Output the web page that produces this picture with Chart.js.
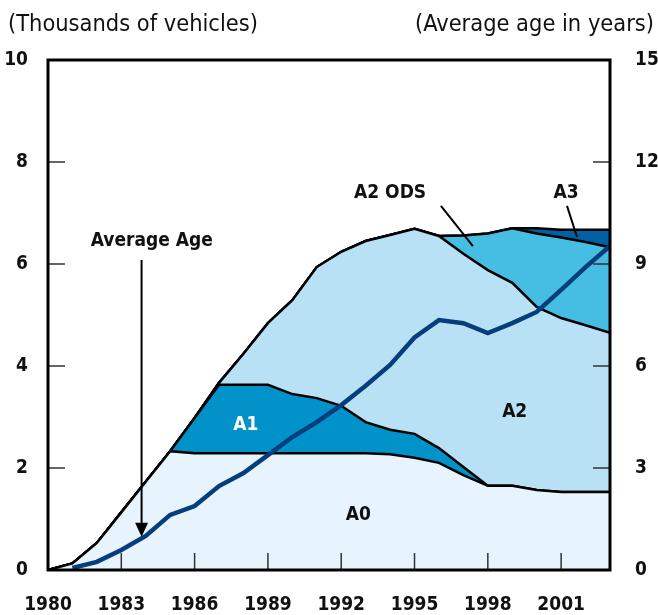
<!DOCTYPE html>
<html>
<head>
<meta charset="utf-8">
<script src="https://cdn.jsdelivr.net/npm/chart.js@4.4.1/dist/chart.umd.min.js"></script>
<style>
  html, body { margin: 0; padding: 0; background: #fff; }
</style>
</head>
<body>
<canvas id="vehicleChart" width="658" height="615"></canvas>
<script>
// years on the x axis
const years = [1980, 1981, 1982, 1983, 1984, 1985, 1986, 1987, 1988, 1989, 1990, 1991,
               1992, 1993, 1994, 1995, 1996, 1997, 1998, 1999, 2000, 2001, 2002, 2003];

// fleet by class, thousands of vehicles (stacked)
const a0    = [0, 0.13, 0.53, 1.13, 1.73, 2.33, 2.29, 2.29, 2.29, 2.29, 2.29, 2.29,
               2.29, 2.29, 2.27, 2.20, 2.10, 1.86, 1.65, 1.65, 1.57, 1.53, 1.53, 1.53];
const a1    = [0, 0, 0, 0, 0, 0, 0.69, 1.34, 1.34, 1.34, 1.16, 1.08,
               0.93, 0.61, 0.48, 0.47, 0.29, 0.16, 0, 0, 0, 0, 0, 0];
const a2    = [0, 0, 0, 0, 0, 0, 0, 0.04, 0.61, 1.21, 1.84, 2.57,
               3.02, 3.55, 3.82, 4.02, 4.16, 4.18, 4.23, 3.98, 3.59, 3.41, 3.27, 3.12];
const a2ods = [0, 0, 0, 0, 0, 0, 0, 0, 0, 0, 0, 0,
               0, 0, 0, 0, 0, 0.36, 0.72, 1.07, 1.44, 1.58, 1.63, 1.68];
const a3    = [0, 0, 0, 0, 0, 0, 0, 0, 0, 0, 0, 0,
               0, 0, 0, 0, 0, 0, 0, 0, 0.10, 0.15, 0.24, 0.34];

// average age in years (right axis)
const avgAge = [null, 0.06, 0.24, 0.59, 1.00, 1.62, 1.88, 2.47, 2.85, 3.38, 3.91, 4.35,
                4.85, 5.42, 6.03, 6.84, 7.35, 7.26, 6.97, 7.26, 7.59, 8.24, 8.91, 9.53];

const leftTicks = [0, 2, 4, 6, 8, 10];
const rightTicks = [0, 3, 6, 9, 12, 15];
const yearTicks = [1980, 1983, 1986, 1989, 1992, 1995, 1998, 2001];

const narrow = '"Liberation Sans Narrow", "DejaVu Sans Condensed", sans-serif';

function pts(values) {
    return years.map((yr, i) => ({ x: yr, y: values[i] }));
}

function area(label, values, color, fill) {
    return {
        label: label,
        data: pts(values),
        backgroundColor: color,
        borderColor: '#000',
        borderWidth: 2.5,
        fill: fill,
        pointRadius: 0,
        tension: 0,
        yAxisID: 'y',
        order: 1
    };
}

// titles, inner tick marks, frame and the labels in the plot
const decorations = {
    id: 'decorations',
    afterDatasetsDraw(chart) {
        const ctx = chart.ctx;
        const a = chart.chartArea;
        const sx = chart.scales.x, sy = chart.scales.y, sr = chart.scales.y1;
        const px = v => sx.getPixelForValue(v);
        const py = v => sy.getPixelForValue(v);

        ctx.save();
        // inward ticks
        ctx.lineWidth = 1.5;
        ctx.strokeStyle = '#333';
        ctx.beginPath();
        leftTicks.slice(1, -1).forEach(v => {
            ctx.moveTo(a.left, py(v)); ctx.lineTo(a.left + 17, py(v));
        });
        rightTicks.slice(1, -1).forEach(v => {
            const yy = sr.getPixelForValue(v);
            ctx.moveTo(a.right, yy); ctx.lineTo(a.right - 17, yy);
        });
        yearTicks.slice(1).forEach(v => {
            ctx.moveTo(px(v), a.bottom); ctx.lineTo(px(v), a.bottom - 17);
        });
        ctx.stroke();

        // frame
        ctx.lineWidth = 3;
        ctx.strokeStyle = '#000';
        ctx.strokeRect(a.left, a.top, a.right - a.left, a.bottom - a.top);

        // axis titles
        ctx.fillStyle = '#111';
        ctx.font = '23.4px ' + narrow;
        ctx.textBaseline = 'alphabetic';
        ctx.textAlign = 'left';
        ctx.fillText('(Thousands of vehicles)', 8, 31);
        ctx.textAlign = 'right';
        ctx.fillText('(Average age in years)', 654, 31);

        // area labels
        ctx.font = 'bold 19px ' + narrow;
        ctx.textAlign = 'center';
        ctx.textBaseline = 'middle';
        const labels = [
            ['A0', 1992.7, 1.08, '#111'],
            ['A1', 1988.1, 2.84, '#fff'],
            ['A2', 1999.1, 3.10, '#111'],
            ['A2 ODS', 1994.0, 7.39, '#111'],
            ['A3', 2001.2, 7.39, '#111'],
            ['Average Age', 1984.25, 6.45, '#111']
        ];
        labels.forEach(([t, xv, yv, c]) => {
            ctx.fillStyle = c;
            ctx.fillText(t, px(xv), py(yv));
        });

        // leader lines
        ctx.strokeStyle = '#000';
        ctx.lineWidth = 2;
        ctx.beginPath();
        ctx.moveTo(px(1996.08), py(7.14)); ctx.lineTo(px(1997.39), py(6.35));
        ctx.moveTo(px(2001.24), py(7.14)); ctx.lineTo(px(2001.65), py(6.53));
        ctx.stroke();

        // arrow down to the average age line
        const ax = px(1983.83), top = py(6.08), tip = py(0.65);
        ctx.beginPath();
        ctx.moveTo(ax, top); ctx.lineTo(ax, tip - 12);
        ctx.stroke();
        ctx.fillStyle = '#000';
        ctx.beginPath();
        ctx.moveTo(ax - 6.5, tip - 14);
        ctx.lineTo(ax + 6.5, tip - 14);
        ctx.lineTo(ax, tip);
        ctx.closePath();
        ctx.fill();
        ctx.restore();
    }
};

const tickFont = { family: narrow, size: 19, weight: 'bold' };

new Chart(document.getElementById('vehicleChart'), {
    type: 'line',
    data: {
        datasets: [
            area('A0', a0, '#e8f4fd', 'origin'),
            area('A1', a1, '#0092c8', '-1'),
            area('A2', a2, '#b9e1f6', '-1'),
            area('A2 ODS', a2ods, '#46bde2', '-1'),
            area('A3', a3, '#0060a4', '-1'),
            {
                label: 'Average Age',
                data: pts(avgAge),
                borderColor: '#063d7c',
                borderWidth: 4.5,
                fill: false,
                pointRadius: 0,
                tension: 0,
                yAxisID: 'y1',
                order: 0
            }
        ]
    },
    options: {
        responsive: false,
        animation: false,
        layout: { padding: { top: 60, left: 0, right: 0, bottom: 0 } },
        plugins: {
            legend: { display: false },
            tooltip: { enabled: false }
        },
        scales: {
            x: {
                type: 'linear',
                min: 1980,
                max: 2003,
                grid: { display: false },
                border: { display: false },
                afterFit: s => { s.height = 45; },
                ticks: {
                    stepSize: 3,
                    includeBounds: false,
                    font: tickFont,
                    color: '#111',
                    padding: 16,
                    maxRotation: 0,
                    callback: v => String(v)
                }
            },
            y: {
                position: 'left',
                stacked: true,
                min: 0,
                max: 10,
                grid: { display: false },
                border: { display: false },
                afterFit: s => { s.width = 48; },
                ticks: {
                    stepSize: 2,
                    font: tickFont,
                    color: '#111',
                    padding: 12
                }
            },
            y1: {
                position: 'right',
                min: 0,
                max: 15,
                grid: { display: false },
                border: { display: false },
                afterFit: s => { s.width = 48; },
                ticks: {
                    stepSize: 3,
                    font: tickFont,
                    color: '#111',
                    padding: 17
                }
            }
        }
    },
    plugins: [decorations]
});
</script>
</body>
</html>
